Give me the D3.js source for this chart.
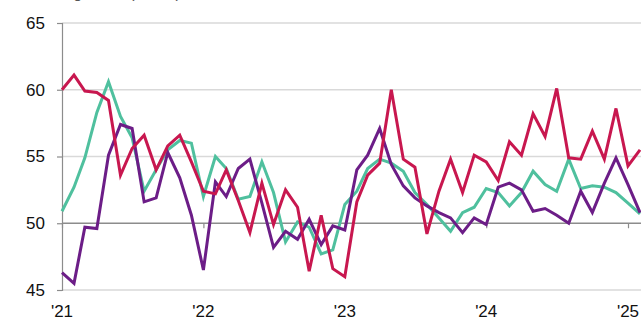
<!DOCTYPE html>
<html lang="en">
<head>
    <meta charset="UTF-8">
    <title>Monthly index, 2021-2025</title>
    <script src="https://d3js.org/d3.v7.min.js"></script>
    <style>
        body {
            margin: 0;
            background: #fff;
            font-family: "Liberation Sans", Arial, sans-serif;
        }
        svg {
            display: block;
        }
        .line {
            fill: none;
            stroke-width: 3px;
            stroke-linejoin: miter;
        }
        .axis text {
            font-size: 17px;
            fill: #111;
        }
    </style>
</head>
<body>
    <svg width="641" height="319"></svg>
    <script>
        // monthly readings, Jan 2021 .. Feb 2025
        const redSeries = [60.0, 61.1, 59.9, 59.8, 59.2, 53.6, 55.6, 56.6, 54.0, 55.8,
                           56.6, 54.6, 52.4, 52.2, 54.0, 51.7, 49.3, 53.0, 49.9, 52.5,
                           51.2, 46.4, 50.6, 46.6, 46.0, 51.6, 53.6, 54.5, 60.0, 54.8,
                           54.2, 49.2, 52.4, 54.8, 52.3, 55.1, 54.6, 53.2, 56.1, 55.1,
                           58.2, 56.5, 60.1, 54.9, 54.8, 56.9, 54.8, 58.6, 54.3, 55.5];
        const purpleSeries = [46.3, 45.5, 49.7, 49.6, 55.1, 57.4, 57.1, 51.6, 51.9, 55.3,
                              53.4, 50.6, 46.5, 53.1, 52.0, 54.1, 54.8, 51.5, 48.2, 49.4,
                              48.8, 50.3, 48.4, 49.8, 49.5, 54.0, 55.1, 57.1, 54.4, 52.8,
                              51.9, 51.3, 50.8, 50.4, 49.3, 50.4, 49.9, 52.7, 53.0, 52.5,
                              50.9, 51.1, 50.6, 50.0, 52.4, 50.8, 53.0, 54.9, 52.9, 50.8];
        const tealSeries = [50.9, 52.7, 54.9, 58.3, 60.6, 58.0, 56.4, 52.4, 54.0, 55.5,
                            56.2, 56.0, 52.0, 55.0, 54.1, 51.8, 52.0, 54.6, 52.3, 48.6,
                            50.1, 49.7, 47.7, 48.0, 51.4, 52.4, 54.1, 54.8, 54.5, 53.9,
                            52.3, 51.4, 50.4, 49.4, 50.8, 51.2, 52.6, 52.3, 51.3, 52.3,
                            53.9, 52.9, 52.4, 54.8, 52.6, 52.8, 52.7, 52.3, 51.5, 50.7];
        const yTicks = [45, 50, 55, 60, 65];
        const yearTicks = ["'21", "'22", "'23", "'24", "'25"];

        const months = d3.timeMonth.range(new Date(2021, 0, 1), new Date(2025, 2, 1));
        const years = d3.timeYear.range(new Date(2021, 0, 1), new Date(2025, 1, 1));

        const svg = d3.select("svg"),
            margin = {top: 23, right: 0, bottom: 29, left: 62},
            width = +svg.attr("width"),
            height = +svg.attr("height");

        const x = d3.scaleTime()
            .domain([new Date(2021, 0, 1), new Date(2025, 0, 1)])
            .range([margin.left, 628]);
        const y = d3.scaleLinear()
            .domain([45, 65])
            .range([height - margin.bottom, margin.top]);

        // caption above the plot, mostly cut off by the top edge
        svg.append("text")
            .attr("x", 2)
            .attr("y", -2)
            .attr("font-size", 16)
            .attr("fill", "#555")
            .text("Purchasing index (levels)");

        // horizontal gridlines
        svg.append("g")
            .selectAll("line")
            .data(yTicks.filter(v => v !== 50))
            .join("line")
            .attr("x1", margin.left)
            .attr("x2", width)
            .attr("y1", d => y(d))
            .attr("y2", d => y(d))
            .attr("stroke", "#d9d9d9")
            .attr("stroke-width", 1.5);

        // y axis
        const yAxis = svg.append("g")
            .attr("class", "axis")
            .attr("transform", `translate(${margin.left},0)`)
            .call(d3.axisLeft(y).tickValues(yTicks).tickSize(5).tickPadding(12));
        yAxis.select(".domain").attr("stroke", "#8c8c8c").attr("stroke-width", 1.2);
        yAxis.selectAll(".tick line").attr("stroke", "#8c8c8c").attr("stroke-width", 1.2);

        // x axis sits on the 50 line
        const xAxis = svg.append("g")
            .attr("class", "axis")
            .attr("transform", `translate(0,${y(50)})`)
            .call(d3.axisBottom(x).tickValues(years).tickSize(5).tickFormat(""));
        xAxis.select(".domain").attr("d", `M${margin.left},0H${width}`)
            .attr("stroke", "#8c8c8c").attr("stroke-width", 1.5);
        xAxis.selectAll(".tick line").attr("stroke", "#8c8c8c").attr("stroke-width", 1.2);

        svg.append("g")
            .attr("class", "axis")
            .selectAll("text")
            .data(years)
            .join("text")
            .attr("x", d => x(d))
            .attr("y", 317)
            .attr("text-anchor", "middle")
            .text((d, i) => yearTicks[i]);

        const line = d3.line()
            .x((d, i) => x(months[i]))
            .y(d => y(d));

        const series = [
            {name: "teal", color: "#4fc09e", values: tealSeries},
            {name: "purple", color: "#6c1d87", values: purpleSeries},
            {name: "red", color: "#c8174f", values: redSeries}
        ];

        series.forEach(function(s) {
            svg.append("path")
                .datum(s.values)
                .attr("class", "line")
                .style("stroke", s.color)
                .attr("d", line);
        });
    </script>
</body>
</html>
